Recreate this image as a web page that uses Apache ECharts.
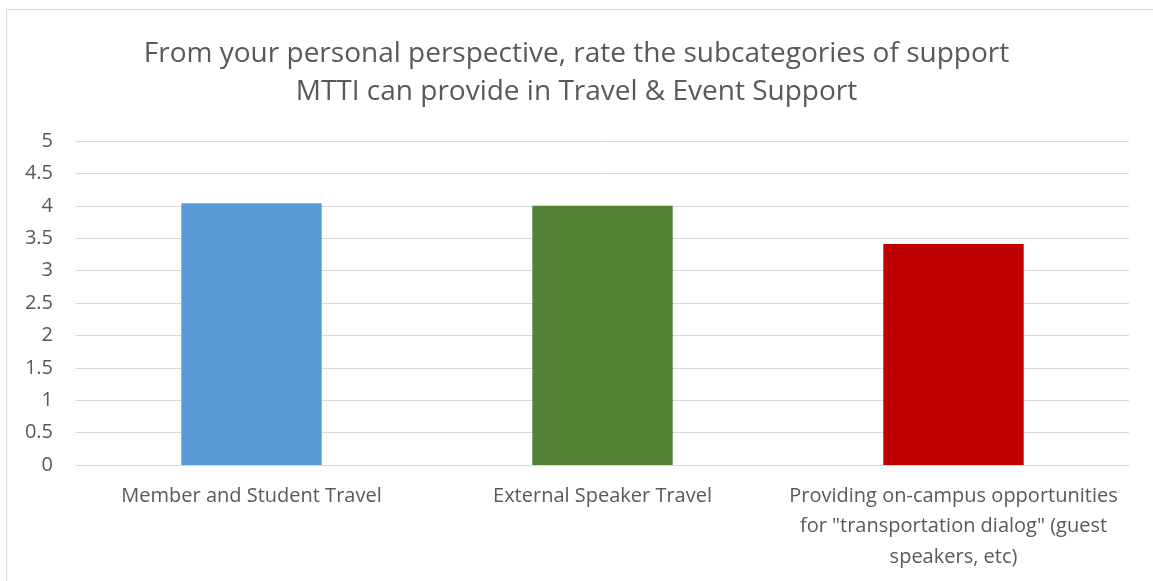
<!DOCTYPE html>
<html>
<head>
<meta charset="utf-8">
<script src="https://cdn.jsdelivr.net/npm/echarts@6/dist/echarts.min.js"></script>
<style>
  html, body { margin: 0; padding: 0; background: #fff; }
  #chart { width: 1153px; height: 581px; }
  .frame { position: absolute; left: 6px; top: 9px; width: 1160px; height: 590px; border: 1px solid #d9d9d9; pointer-events: none; }
</style>
</head>
<body>
<div id="chart"></div>
<div class="frame"></div>
<script>
// 数据
const categories = [
  'Member and Student Travel',
  'External Speaker Travel',
  'Providing on-campus opportunities\nfor "transportation dialog" (guest\nspeakers, etc)'
]
const ratings = [4.04, 4.0, 3.41]
const barColors = ['#5b9bd5', '#548235', '#c00000']
const yTicks = [0, 0.5, 1, 1.5, 2, 2.5, 3, 3.5, 4, 4.5, 5]

const font = '"Open Sans", "Noto Sans", sans-serif'
const chart = echarts.init(document.getElementById('chart'))

chart.setOption({
  animation: false,
  title: {
    text: 'From your personal perspective, rate the subcategories of support\nMTTI can provide in Travel & Event Support',
    left: 'center',
    top: 30,
    textStyle: {
      fontFamily: font,
      fontSize: 28,
      fontWeight: 'normal',
      color: '#595959',
      lineHeight: 38
    }
  },
  grid: {
    left: 76,
    right: 24,
    top: 141,
    bottom: 116
  },
  xAxis: {
    type: 'category',
    data: categories,
    axisLine: { lineStyle: { color: '#d9d9d9', width: 1 } },
    axisTick: { show: false },
    axisLabel: {
      interval: 0,
      margin: 16,
      fontFamily: font,
      fontSize: 20,
      color: '#595959',
      lineHeight: 30.5
    }
  },
  yAxis: {
    type: 'value',
    min: 0,
    max: 5,
    interval: 0.5,
    axisLine: { show: false },
    axisTick: { show: false },
    splitLine: { lineStyle: { color: '#d9d9d9', width: 1 } },
    axisLabel: {
      margin: 23,
      fontFamily: font,
      fontSize: 20,
      color: '#595959',
      formatter: v => (yTicks.includes(v) ? String(v) : '')
    }
  },
  series: [
    {
      type: 'bar',
      barWidth: '40%',
      data: ratings.map((v, i) => ({ value: v, itemStyle: { color: barColors[i] } }))
    }
  ]
})
</script>
</body>
</html>
